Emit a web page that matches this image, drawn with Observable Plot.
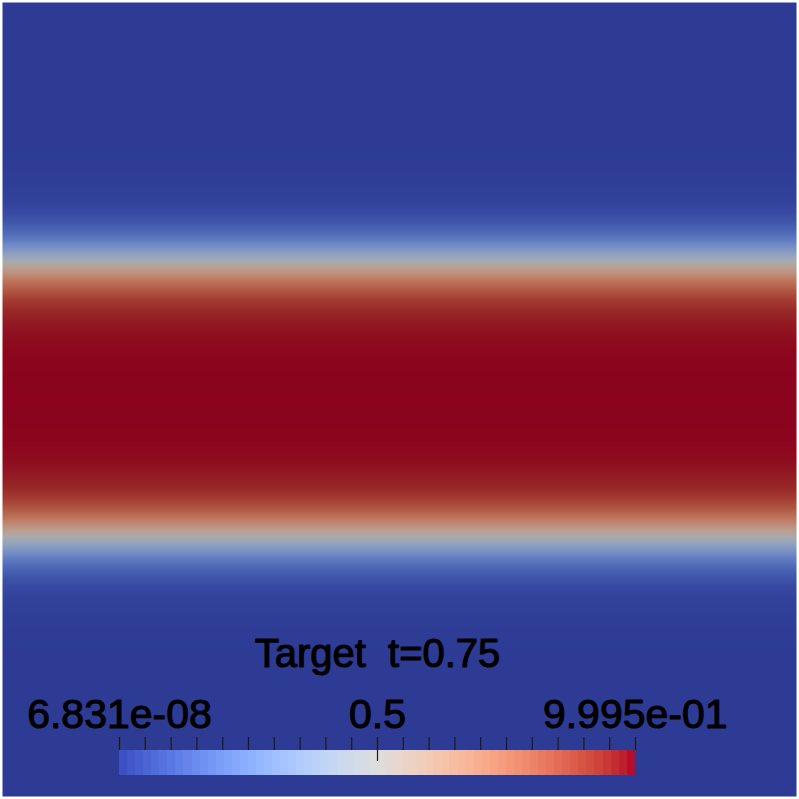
<!DOCTYPE html>
<html>
<head>
<meta charset="utf-8">
<script src="https://cdn.jsdelivr.net/npm/d3@7"></script>
<script src="https://cdn.jsdelivr.net/npm/@observablehq/plot@0.6"></script>
<style>
html, body { margin: 0; padding: 0; background: #ffffff; }
#wrap { position: relative; width: 799px; height: 799px; overflow: hidden; }
#wrap svg { position: absolute; left: 0; top: 0; }
#wrap svg text { white-space: pre; }
</style>
</head>
<body>
<div id="wrap"></div>
<script>
// ---- data ----
// vertical profile of the field (y: 0 = bottom, 1 = top); field is constant along x
const profileY = [0, 0.1, 0.15, 0.2, 0.225, 0.25, 0.2625, 0.275, 0.2875, 0.3, 0.3125, 0.325, 0.3375, 0.35, 0.3625, 0.375, 0.3875, 0.4, 0.425, 0.45, 0.5,
                  0.55, 0.575, 0.6, 0.6125, 0.625, 0.6375, 0.65, 0.6625, 0.675, 0.6875, 0.7, 0.7125, 0.725, 0.7375, 0.75, 0.775, 0.8, 0.85, 0.9, 1];
const profileValue = [0.00000007, 0.00002, 0.0002, 0.002, 0.007, 0.024, 0.042, 0.074, 0.13, 0.21, 0.33, 0.47, 0.62, 0.75, 0.84, 0.91, 0.95, 0.97, 0.99, 0.997, 0.9995,
                      0.997, 0.99, 0.97, 0.95, 0.91, 0.84, 0.75, 0.62, 0.47, 0.33, 0.21, 0.13, 0.074, 0.042, 0.024, 0.007, 0.002, 0.0002, 0.00002, 0.00000007];
const rangeMin = 6.831e-08;
const rangeMax = 0.9995;
const labelValues = [6.831e-08, 0.5, 0.9995];
const labelTexts = ["6.831e-08", "0.5", "9.995e-01"];
const tickValues = [0, 0.05, 0.1, 0.15, 0.2, 0.25, 0.3, 0.35, 0.4, 0.45, 0.5, 0.55, 0.6, 0.65, 0.7, 0.75, 0.8, 0.85, 0.9, 0.95, 1];
const majorTick = [0.5];
const titleText = "Target  t=0.75";
const bandCount = 64;

// ---- colormap (Cool to Warm) ----
const coolWarm = [
  [59,76,192],[68,90,204],[77,104,215],[87,117,225],[98,130,234],[108,142,241],[119,154,247],[130,165,251],
  [141,176,254],[152,185,255],[163,194,255],[174,201,253],[184,208,249],[194,213,244],[204,217,238],[213,219,230],
  [221,221,221],[229,216,209],[236,211,197],[241,204,185],[245,196,173],[247,187,160],[247,177,148],[247,166,135],
  [244,154,123],[241,141,111],[236,127,99],[229,112,88],[222,96,77],[213,80,66],[203,62,56],[192,40,47],[180,4,38]
];
const shade = 0.77; // lighting darkens the rendered surface
const stopsDomain = coolWarm.map((_, i) => rangeMin + (rangeMax - rangeMin) * i / (coolWarm.length - 1));
const barRange = coolWarm.map(([r, g, b]) => d3.rgb(r, g, b).formatHex());
const fieldRange = coolWarm.map(([r, g, b]) => d3.rgb(r * shade, g * shade, b * shade).formatHex());

const fieldPts = profileY.flatMap((y, i) => [{x: 0, y, v: profileValue[i]}, {x: 1, y, v: profileValue[i]}]);
const bandW = (rangeMax - rangeMin) / bandCount;
const bands = d3.range(bandCount).map(i => ({x1: rangeMin + i * bandW, x2: rangeMin + (i + 1) * bandW, v: rangeMin + (i + 0.5) * bandW}));
const labels = labelValues.map((v, i) => ({v, text: labelTexts[i]}));

const font = "'Liberation Sans', Arial, Helvetica, sans-serif";

const field = Plot.plot({
  width: 799, height: 799,
  marginLeft: 2, marginRight: 3, marginTop: 2, marginBottom: 3,
  x: {domain: [0, 1], axis: null},
  y: {domain: [0, 1], axis: null},
  color: {type: "linear", domain: stopsDomain, range: fieldRange, clamp: true},
  style: {background: "transparent"},
  marks: [
    Plot.raster(fieldPts, {x: "x", y: "y", fill: "v", interpolate: "barycentric", x1: 0, y1: 0, x2: 1, y2: 1})
  ]
});

const bar = Plot.plot({
  width: 799, height: 799,
  marginLeft: 119, marginRight: 164, marginTop: 750, marginBottom: 24,
  x: {domain: [0, 1], axis: null},
  y: {domain: [0, 1], axis: null},
  color: {type: "linear", domain: stopsDomain, range: barRange, clamp: true},
  style: {background: "transparent", fontFamily: font, overflow: "visible"},
  marks: [
    Plot.rect(bands, {x1: "x1", x2: "x2", fill: "v", shapeRendering: "crispEdges"}),
    Plot.tickX(tickValues, {x: d => d, insetTop: -13, insetBottom: 25, stroke: "#1a1a1a", strokeWidth: 1.2}),
    Plot.tickX(majorTick, {x: d => d, insetTop: -13, insetBottom: 14, stroke: "#1a1a1a", strokeWidth: 1.2}),
    Plot.text(labels, {x: "v", text: "text", frameAnchor: "top", dy: -23, lineAnchor: "bottom", fontSize: 41, fill: "black", stroke: "black", strokeWidth: 1.1, textAnchor: "middle"}),
    Plot.text([titleText], {text: d => d, frameAnchor: "top", dy: -84, lineAnchor: "bottom", fontSize: 40, fill: "black", stroke: "black", strokeWidth: 1.1, textAnchor: "middle"})
  ]
});

const wrap = document.getElementById("wrap");
wrap.appendChild(field);
wrap.appendChild(bar);
</script>
</body>
</html>
